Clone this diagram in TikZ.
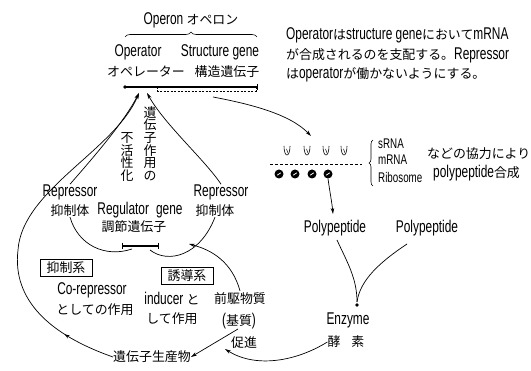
\documentclass[tikz,border=0pt]{standalone}
\usepackage{fontspec}
\setmainfont{Liberation Sans}[FakeStretch=0.7]
\newfontfamily\jpf{Noto Sans CJK JP}[Scale=0.76]
\newcommand{\JP}[1]{{\jpf #1}}
\usetikzlibrary{arrows.meta,decorations.pathreplacing,decorations.markings}
\begin{document}
\begin{tikzpicture}[x=1pt,y=-1pt,
  lbl/.style={inner sep=0pt, font=\fontsize{17}{19}\selectfont},
  small/.style={inner sep=0pt, font=\fontsize{14}{16}\selectfont},
  vert/.style={inner sep=0pt, align=center, font=\jpf\fontsize{17}{12.6}\selectfont},
  jbox/.style={draw, line width=0.9pt, minimum width=52pt, minimum height=17pt, inner sep=0pt, font=\fontsize{17}{19}\selectfont},
  con/.style={line width=0.7pt},
  arr/.style={con, -{Stealth[length=6pt,width=3.5pt]}},
  ball/.style={circle, fill=black, minimum size=9pt, inner sep=0pt,
    path picture={\draw[white, line width=0.7pt]
      ([xshift=-1.8pt,yshift=-1.2pt]path picture bounding box.center) --
      ([xshift=1.8pt,yshift=1.2pt]path picture bounding box.center);}},
  brc/.style={decorate, line width=0.6pt}
]
\useasboundingbox (0,0) rectangle (531,371);

% ---- Operon header
\node[lbl] (operon) at (191,20) {Operon \JP{オペロン}};
\coordinate (braceL) at (125,37);
\coordinate (braceR) at (257,37);
\draw[brc, decoration={brace, amplitude=5pt}] (braceL) -- (braceR);
\node[lbl] (opT) at (138,52) {Operator};
\node[lbl] (sgT) at (220,52) {Structure gene};
\node[lbl] (opJ) at (146,72) {\JP{オペレーター}};
\node[lbl] (sgJ) at (227,72) {\JP{構造遺伝子}};

% operon bar
\coordinate (opL) at (125,87);
\coordinate (opR) at (258,87);
\draw[line width=2.2pt] (opL) -- (opR);
\fill (opL) circle (1.8pt);
\draw[line width=0.8pt] (257,84) -- (257,90);
\draw[line width=0.5pt, dash pattern=on 2pt off 1.5pt] (157,87) -- (157,91) -- (256,91) -- (256,87);

% ---- paragraph
\node[lbl, anchor=west] (para1) at (286,35) {Operator\JP{は}structure gene\JP{において}mRNA};
\node[lbl, anchor=west] (para2) at (286,55) {\JP{が合成されるのを支配する。}Repressor};
\node[lbl, anchor=west] (para3) at (286,75) {\JP{は}operator\JP{が働かないようにする。}};

% ---- structure gene -> RNA
\coordinate (sgOut) at (213,97);
\coordinate (rnaIn) at (311,136);
\draw[arr] (sgOut) .. controls (250,104) and (290,114) .. (rnaIn);

% U marks
\foreach \x in {287,307,326,344}{
  \draw[line width=0.6pt] (\x-3,146) .. controls (\x-3,158) and (\x+3,158) .. (\x+3,146);
  \draw[line width=0.5pt] (\x-0.5,149) -- (\x+1,153);
}
\draw[line width=0.6pt, dash pattern=on 3pt off 2pt] (270,164) -- (362,164);
\node[ball] (b1) at (279,174) {};
\node[ball] (b2) at (295,174) {};
\node[ball] (b3) at (312,174) {};
\node[ball] (b4) at (328,174) {};

\coordinate (brB) at (373,186);
\coordinate (brT) at (373,140);
\draw[brc, decoration={brace, amplitude=4pt}] (brB) -- (brT);
\node[small, anchor=west] (srna) at (378,144) {sRNA};
\node[small, anchor=west] (mrna) at (378,160) {mRNA};
\node[small, anchor=west] (ribo) at (378,177) {Ribosome};
\node[lbl, anchor=west] (coop1) at (427,154) {\JP{などの協力により}};
\node[lbl, anchor=west] (coop2) at (433,173) {polypeptide\JP{合成}};

% ---- polypeptides and enzyme
\node[lbl] (pp1) at (335,228) {Polypeptide};
\node[lbl] (pp2) at (427,228) {Polypeptide};
\coordinate (ppIn) at (333,214);
\draw[arr] (b4.south) .. controls (330,193) and (332,203) .. (ppIn);
\coordinate (pp1out) at (337,240);
\coordinate (pp2out) at (407,244);
\coordinate (ez) at (357,305);
\coordinate (ezTop) at (357,302);
\fill (ez) circle (1.8pt);
\draw[con] (pp1out) .. controls (347,262) and (357,278) .. (ezTop);
\draw[con] (pp2out) .. controls (380,262) and (360,280) .. (ezTop);
\node[lbl] (enz) at (348,320) {Enzyme};
\node[lbl] (koso) at (346,342) {\JP{酵}\hspace{11pt}\JP{素}};

% ---- regulator area
\node[lbl] (repL) at (70,192) {Repressor};
\node[lbl] (repLj) at (70,211) {\JP{抑制体}};
\node[lbl] (reg) at (140,210) {Regulator\hspace{7pt}gene};
\node[lbl] (regj) at (134,227) {\JP{調節遺伝子}};
\node[lbl] (repR) at (221,192) {Repressor};
\node[lbl] (repRj) at (215,211) {\JP{抑制体}};
\coordinate (rgL) at (122,246);
\coordinate (rgR) at (158,246);
\draw[line width=1.6pt] (rgL) -- (rgR);
\draw[line width=0.7pt] (122,243) -- (122,249);
\draw[line width=0.7pt] (158,243) -- (158,249);
\coordinate (rgLb) at (132,249);
\coordinate (rgRb) at (150,250);
\draw[con] (repLj.south) .. controls (78,245) and (105,258) .. (rgLb);
\draw[con] (rgRb) .. controls (168,264) and (200,256) .. (repRj.south);

% vertical text
\node[vert] (vR) at (150,143.5) {遺\\伝\\子\\作\\用\\の};
\node[vert] (vL) at (127,157) {不\\活\\性\\化};

% arrows to operator
\coordinate (tipA) at (139,93);
\coordinate (tipB) at (147,93);
\draw[arr] (repL.north) .. controls (100,150) and (125,120) .. (tipA);
\draw[arr] (repR.north) .. controls (205,160) and (165,125) .. (tipB);

% ---- lower systems
\node[jbox] (supp) at (66,268) {\JP{抑制系}};
\node[lbl] (corep) at (92,290) {Co-repressor};
\node[lbl] (corepj) at (95,310) {\JP{としての作用}};
\node[jbox] (ind) at (187,276) {\JP{誘導系}};
\node[lbl] (indc) at (172,299) {inducer \JP{と}};
\node[lbl] (indcj) at (172,319) {\JP{して作用}};
\node[lbl] (prec) at (240,299) {\JP{前駆物質}};
\node[lbl] (subs) at (239,321) {(\JP{基質})};
\node[lbl] (prom) at (244,343) {\JP{促進}};
\node[lbl] (gp) at (152,357) {\JP{遺伝子生産物}};

\coordinate (regIn) at (189,244);
\draw[arr] ([yshift=2pt]prec.north) .. controls (232,262) and (212,250) .. (regIn);
\coordinate (convS) at (238,329);
\draw[arr] (convS) -- (gp.east);
\coordinate (promIn) at (225,349);
\draw[arr] (koso.west) .. controls (295,362) and (255,368) .. (promIn);

% big curve product -> operator
\draw[arr, postaction={decorate}, decoration={markings, mark=at position 0.15 with {\arrow{Stealth[length=5pt,width=3.5pt]}}}]
  (gp.west) .. controls (50,335) and (12,300) .. (18,250) .. controls (22,190) and (115,150) .. (tipA);
\end{tikzpicture}
\end{document}
